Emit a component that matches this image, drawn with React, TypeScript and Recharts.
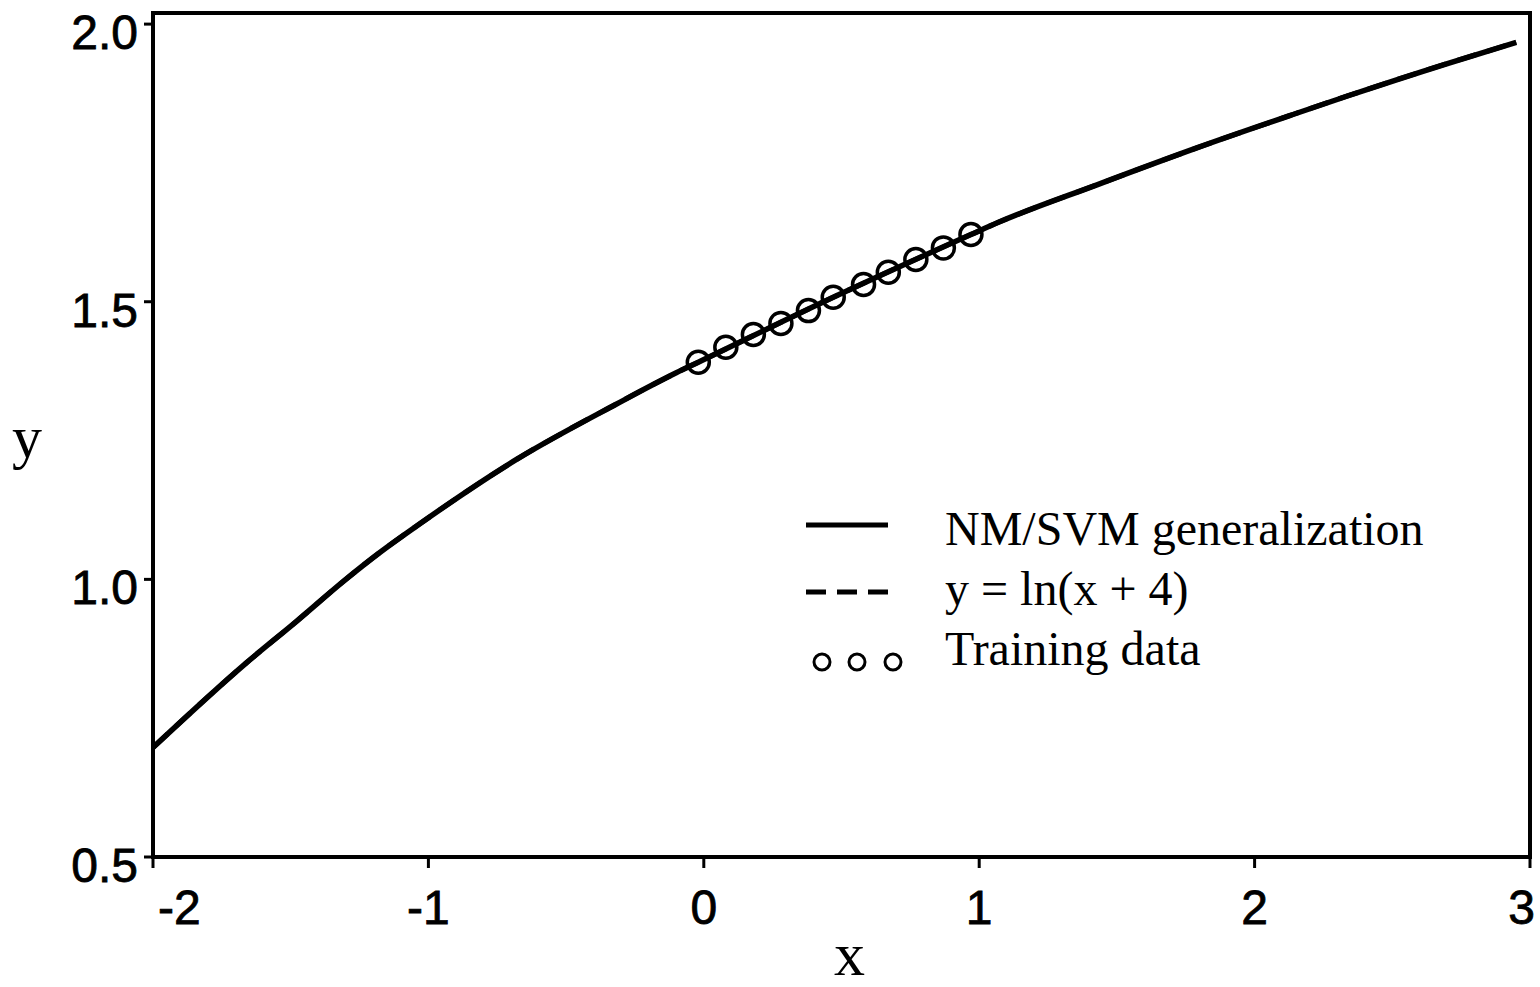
import React from "react";
import {
  ComposedChart,
  Line,
  Scatter,
  XAxis,
  YAxis,
  ReferenceArea,
  Label,
} from "recharts";

// NM/SVM generalization curve
const svmX = [-2.0, -1.66, -1.48, -1.3, -1.18, -1.04, -0.68, -0.32, -0.1, -0.02, 0.47, 0.97, 1.07, 1.43, 1.79, 2.15, 2.34, 2.7, 2.95];
const svmY = [0.697, 0.85, 0.924, 1.0, 1.047, 1.097, 1.216, 1.315, 1.372, 1.391, 1.508, 1.621, 1.643, 1.711, 1.777, 1.839, 1.871, 1.929, 1.967];

// y = ln(x + 4): hidden under the solid curve in the picture (same trace)
const lnX = [-2.0, -1.66, -1.48, -1.3, -1.18, -1.04, -0.68, -0.32, -0.1, -0.02, 0.47, 0.97, 1.07, 1.43, 1.79, 2.15, 2.34, 2.7, 2.95];
const lnY = [0.697, 0.85, 0.924, 1.0, 1.047, 1.097, 1.216, 1.315, 1.372, 1.391, 1.508, 1.621, 1.643, 1.711, 1.777, 1.839, 1.871, 1.929, 1.967];

// Training data (open circles)
const trainX = [-0.02, 0.08, 0.18, 0.28, 0.38, 0.47, 0.58, 0.67, 0.77, 0.87, 0.97];
const trainY = [1.391, 1.418, 1.441, 1.461, 1.484, 1.508, 1.531, 1.553, 1.576, 1.597, 1.621];

const xTicks = [-2, -1, 0, 1, 2, 3];
const yTicks = [0.5, 1.0, 1.5, 2.0];

const legendLabels = ["NM/SVM generalization", "y = ln(x + 4)", "Training data"];

const svmData = svmX.map((x, i) => ({ x, y: svmY[i] }));
const lnData = lnX.map((x, i) => ({ x, y: lnY[i] }));
const trainData = trainX.map((x, i) => ({ x, y: trainY[i] }));

const SANS = "'Liberation Sans', Arial, Helvetica, sans-serif";
const SERIF = "'Liberation Serif', 'Times New Roman', serif";

const XTick = (props: any) => {
  const { x, y, payload } = props;
  const v = payload.value;
  let anchor: "start" | "middle" | "end" = "middle";
  let dx = 0;
  if (v === xTicks[0]) {
    anchor = "start";
    dx = 5;
  } else if (v === xTicks[xTicks.length - 1]) {
    anchor = "end";
    dx = 5;
  }
  return (
    <text x={x + dx} y={y} dy="0.71em" textAnchor={anchor} fontFamily={SANS} fontSize={48} fill="#000" stroke="#000" strokeWidth={0.8}>
      {String(v)}
    </text>
  );
};

const YTick = (props: any) => {
  const { x, y, payload } = props;
  return (
    <text x={x} y={y} dy={25} textAnchor="end" fontFamily={SANS} fontSize={48} fill="#000" stroke="#000" strokeWidth={0.8}>
      {Number(payload.value).toFixed(1)}
    </text>
  );
};

const Circle = (props: any) => {
  const { cx, cy } = props;
  return <circle cx={cx} cy={cy} r={11} fill="none" stroke="#000" strokeWidth={3.5} />;
};

export default function App() {
  return (
    <div style={{ position: "absolute", left: 0, top: 0, width: 1540, height: 987, background: "#fff" }}>
      <ComposedChart
        width={1540}
        height={987}
        margin={{ top: 13, right: 10, bottom: 0, left: 0 }}
      >
        <XAxis
          type="number"
          dataKey="x"
          domain={[-2, 3]}
          ticks={xTicks}
          allowDataOverflow
          height={130}
          axisLine={false}
          tickLine={{ stroke: "#000", strokeWidth: 3 }}
          tickSize={11}
          tickMargin={22}
          tick={<XTick />}
        >
          <Label
            content={(p: any) => {
              const vb = p.viewBox || { x: 153, y: 857, width: 1377, height: 130 };
              return (
                <text x={vb.x + vb.width / 2 + 8} y={vb.y + 118} textAnchor="middle" fontFamily={SERIF} fontSize={62} fill="#000">
                  x
                </text>
              );
            }}
          />
        </XAxis>
        <YAxis
          type="number"
          dataKey="y"
          domain={[0.5, 2.02]}
          ticks={yTicks}
          allowDataOverflow
          width={153}
          axisLine={false}
          tickLine={{ stroke: "#000", strokeWidth: 3 }}
          tickSize={9}
          tickMargin={6}
          tick={<YTick />}
        >
          <Label
            content={(p: any) => {
              const vb = p.viewBox || { x: 0, y: 13, width: 153, height: 844 };
              return (
                <text x={vb.x + 12} y={vb.y + vb.height / 2 + 22} fontFamily={SERIF} fontSize={60} fill="#000">
                  y
                </text>
              );
            }}
          />
        </YAxis>
        <ReferenceArea
          x1={-2}
          x2={3}
          y1={0.5}
          y2={2.02}
          fill="none"
          stroke="#000"
          strokeWidth={4}
          ifOverflow="visible"
        />
        <Line
          data={lnData}
          dataKey="y"
          type="monotone"
          stroke="#000"
          strokeWidth={5}
          strokeDasharray="20 11"
          dot={false}
          activeDot={false}
          isAnimationActive={false}
        />
        <Line
          data={svmData}
          dataKey="y"
          type="monotone"
          stroke="#000"
          strokeWidth={5.5}
          dot={false}
          activeDot={false}
          isAnimationActive={false}
        />
        <Scatter data={trainData} dataKey="y" shape={<Circle />} isAnimationActive={false} />
      </ComposedChart>
      <svg
        width={700}
        height={200}
        style={{ position: "absolute", left: 790, top: 490 }}
      >
        <line x1={16} y1={35} x2={98} y2={35} stroke="#000" strokeWidth={5} />
        <line x1={16} y1={102} x2={98} y2={102} stroke="#000" strokeWidth={5} strokeDasharray="20 11" />
        <circle cx={32} cy={172} r={8} fill="none" stroke="#000" strokeWidth={3} />
        <circle cx={67} cy={172} r={8} fill="none" stroke="#000" strokeWidth={3} />
        <circle cx={103} cy={172} r={8} fill="none" stroke="#000" strokeWidth={3} />
        <text x={155} y={55} fontFamily={SERIF} fontSize={48} fill="#000">{legendLabels[0]}</text>
        <text x={155} y={115} fontFamily={SERIF} fontSize={48} fill="#000">{legendLabels[1]}</text>
        <text x={155} y={175} fontFamily={SERIF} fontSize={48} fill="#000">{legendLabels[2]}</text>
      </svg>
    </div>
  );
}
